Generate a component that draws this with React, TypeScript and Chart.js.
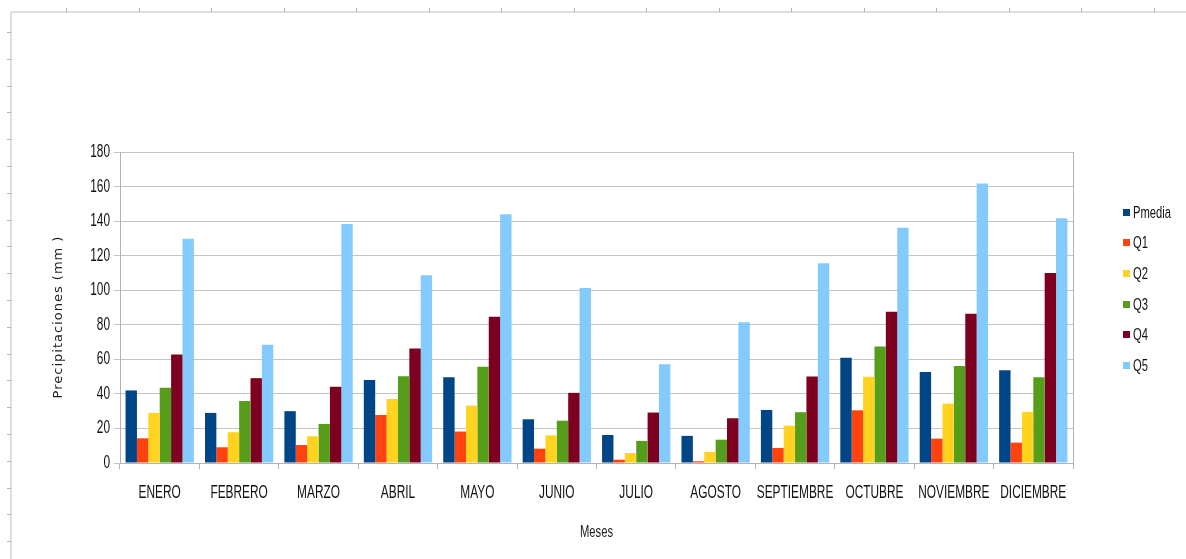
import { useEffect, useRef } from "react";
import { Chart, registerables } from "chart.js";

Chart.register(...registerables);

// Monthly precipitation (mm): mean and quintile values
const months = [
  "ENERO", "FEBRERO", "MARZO", "ABRIL", "MAYO", "JUNIO",
  "JULIO", "AGOSTO", "SEPTIEMBRE", "OCTUBRE", "NOVIEMBRE", "DICIEMBRE",
];
const pmedia = [42, 29, 30, 48, 49.7, 25.3, 16.2, 15.7, 30.7, 60.9, 52.6, 53.7];
const q1 = [14.3, 9.1, 10.4, 27.8, 18.2, 8.3, 1.9, 1, 8.7, 30.5, 14.1, 11.8];
const q2 = [29, 17.8, 15.5, 37.1, 33.2, 16, 5.8, 6.4, 21.6, 49.9, 34.4, 29.6];
const q3 = [43.5, 35.9, 22.6, 50.2, 55.7, 24.5, 12.8, 13.5, 29.4, 67.4, 56.2, 49.7];
const q4 = [62.8, 49.1, 44.2, 66.3, 84.6, 40.6, 29.2, 25.9, 50, 87.5, 86.4, 110];
const q5 = [129.8, 68.4, 138.4, 108.6, 144, 101.3, 57.2, 81.5, 115.6, 136.2, 161.7, 141.6];

const seriesNames = ["Pmedia", "Q1", "Q2", "Q3", "Q4", "Q5"];
const seriesColors = ["#004586", "#ff420e", "#ffd320", "#579d1c", "#7e0021", "#83caff"];

const yTitle = "Precipitaciones (mm )";
const xTitle = "Meses";

// Text in this family is drawn horizontally condensed (narrow face look)
const NARROW = '"Liberation Sans", Arial, sans-serif';
const NARROW_SCALE = 0.66;

function condenseText(ctx: CanvasRenderingContext2D) {
  const orig = ctx.fillText;
  (ctx as any).fillText = function (text: string, x: number, y: number, maxWidth?: number) {
    if (ctx.font.includes("Liberation Sans")) {
      ctx.save();
      ctx.translate(x, y);
      ctx.scale(NARROW_SCALE, 1);
      orig.call(ctx, text, 0, 0);
      ctx.restore();
    } else if (maxWidth !== undefined) {
      orig.call(ctx, text, x, y, maxWidth);
    } else {
      orig.call(ctx, text, x, y);
    }
  };
}

// Page ruler lines along the top and left edges
const rulerPlugin = {
  id: "ruler",
  beforeDraw(chart: any) {
    const ctx = chart.ctx;
    const w = chart.width;
    const h = chart.height;
    ctx.save();
    ctx.strokeStyle = "#d4d4d4";
    ctx.lineWidth = 1.5;
    ctx.beginPath();
    ctx.moveTo(11, 12);
    ctx.lineTo(w, 12);
    ctx.moveTo(11, 12);
    ctx.lineTo(11, h);
    ctx.stroke();
    ctx.strokeStyle = "#b4b4b4";
    ctx.lineWidth = 1;
    ctx.beginPath();
    for (let x = 66; x < w; x += 72.5) {
      ctx.moveTo(Math.round(x) + 0.5, 8);
      ctx.lineTo(Math.round(x) + 0.5, 12);
    }
    for (let y = 32; y < h; y += 26.8) {
      ctx.moveTo(7, Math.round(y) + 0.5);
      ctx.lineTo(11, Math.round(y) + 0.5);
    }
    ctx.stroke();
    ctx.restore();
  },
};

// Right edge of the plot frame, the vertical axis title and the legend
const framePlugin = {
  id: "frameAndLegend",
  afterDraw(chart: any) {
    const ctx = chart.ctx;
    const area = chart.chartArea;
    ctx.save();
    ctx.strokeStyle = "#b3b3b3";
    ctx.lineWidth = 1;
    ctx.beginPath();
    ctx.moveTo(Math.round(area.right) + 0.5, area.top);
    ctx.lineTo(Math.round(area.right) + 0.5, area.bottom);
    ctx.stroke();

    // vertical axis title
    ctx.save();
    ctx.translate(59, 317);
    ctx.rotate(-Math.PI / 2);
    ctx.font = '13px "DejaVu Sans", sans-serif';
    (ctx as any).letterSpacing = "1px";
    ctx.fillStyle = "#222";
    ctx.textAlign = "center";
    ctx.textBaseline = "middle";
    ctx.fillText(yTitle, 0, 0);
    ctx.restore();

    // legend
    ctx.font = `17px ${NARROW}`;
    ctx.textBaseline = "middle";
    ctx.textAlign = "left";
    chart.data.datasets.forEach((ds: any, i: number) => {
      const cy = 212 + i * 30.7;
      ctx.fillStyle = ds.backgroundColor;
      ctx.fillRect(1123, Math.round(cy - 3.5), 7, 7);
      ctx.fillStyle = "#111";
      ctx.fillText(ds.label, 1133, cy + 1);
    });
    ctx.restore();
  },
};

export default function App() {
  const canvasRef = useRef<HTMLCanvasElement | null>(null);

  useEffect(() => {
    document.body.style.margin = "0";
    const canvas = canvasRef.current;
    if (!canvas) return;
    const ctx2d = canvas.getContext("2d");
    if (ctx2d) condenseText(ctx2d);
    const values = [pmedia, q1, q2, q3, q4, q5];
    const chart = new Chart(canvas, {
      type: "bar",
      data: {
        labels: months,
        datasets: seriesNames.map((name, i) => ({
          label: name,
          data: values[i],
          backgroundColor: seriesColors[i],
          borderWidth: 0,
          categoryPercentage: 0.86,
          barPercentage: 1,
        })),
      },
      options: {
        animation: false,
        responsive: false,
        events: [],
        layout: { padding: { left: 0, right: 113, top: 152, bottom: 0 } },
        plugins: {
          legend: { display: false },
          tooltip: { enabled: false },
        },
        scales: {
          x: {
            afterFit(scale: any) {
              scale.height = 96;
            },
            grid: {
              display: true,
              drawOnChartArea: false,
              drawTicks: true,
              tickLength: 6,
              color: "#b3b3b3",
              offset: true,
            },
            border: { color: "#b3b3b3" },
            ticks: {
              color: "#111",
              font: { family: NARROW, size: 18 },
              padding: 13,
              maxRotation: 0,
              autoSkip: false,
            },
            title: {
              display: true,
              text: xTitle,
              color: "#222",
              font: { family: NARROW, size: 17 },
              padding: { top: 0, bottom: 16 },
            },
          },
          y: {
            min: 0,
            max: 180,
            afterFit(scale: any) {
              scale.width = 120;
            },
            grid: {
              color: "#c4c4c4",
              tickLength: 6,
              drawTicks: true,
            },
            border: { color: "#b3b3b3" },
            ticks: {
              stepSize: 20,
              color: "#111",
              font: { family: NARROW, size: 18 },
              padding: 4,
            },
            title: { display: false },
          },
        },
      },
      plugins: [rulerPlugin, framePlugin],
    });
    return () => chart.destroy();
  }, []);

  return (
    <div style={{ position: "absolute", left: 0, top: 0, width: 1186, height: 559, background: "#fff" }}>
      <canvas ref={canvasRef} width={1186} height={559} />
    </div>
  );
}
